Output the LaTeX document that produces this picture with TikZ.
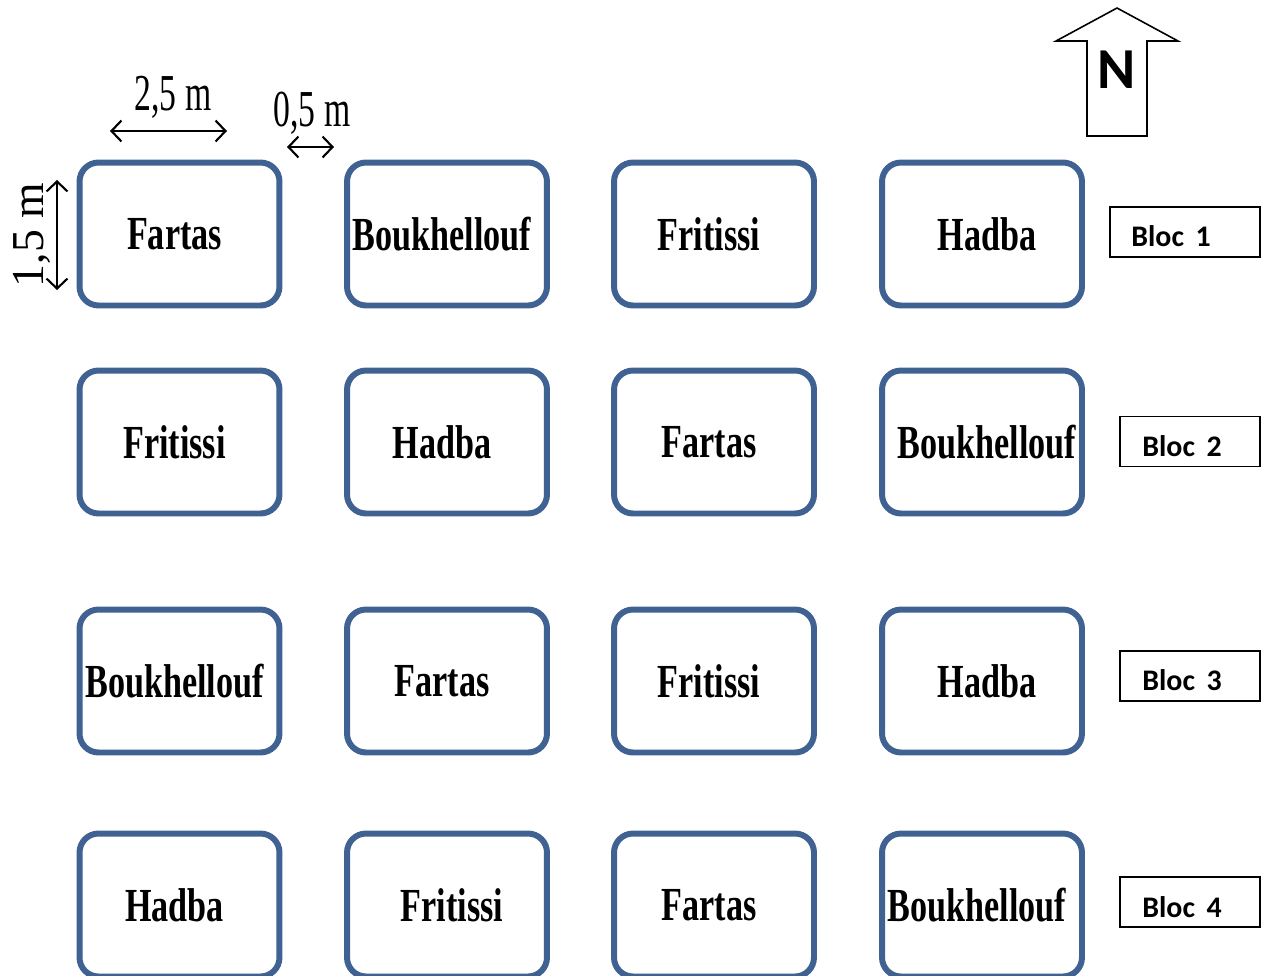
\documentclass[tikz,border=0pt]{standalone}
\usepackage{fontspec}
\usepackage{graphicx}
\setmainfont{Liberation Serif}
\newfontfamily\calibrifont{Carlito}
\usetikzlibrary{arrows.meta}
\definecolor{plotblue}{HTML}{3F6293}
\tikzset{
  plotbox/.style={draw=plotblue, line width=3.4pt, rounded corners=0.38cm,
    minimum width=4.0cm, minimum height=2.86cm, inner sep=0pt, fill=white,
    font=\fontsize{27}{30}\selectfont\bfseries},
  blocbox/.style={draw=black, line width=1.1pt, minimum width=2.8cm, minimum height=1cm, inner sep=0pt},
  bloctext/.style={anchor=west, inner sep=0pt, font=\calibrifont\fontsize{17}{20}\selectfont\bfseries},
  dimarrow/.style={line width=1.2pt, {Straight Barb[length=2mm,width=4.2mm]}-{Straight Barb[length=2mm,width=4.2mm]}},
  dimtext/.style={inner sep=0pt, font=\fontsize{29.5}{32}\selectfont}
}
% condensed label, shifted left (\cnl) or right (\cnr) by 5px
\newcommand{\cnl}[1]{\scalebox{0.72}[1]{#1}\hspace*{0.2cm}}
\newcommand{\cnr}[1]{\hspace*{0.2cm}\scalebox{0.72}[1]{#1}}
\newcommand{\cd}[1]{\scalebox{0.65}[1]{#1}}
\begin{document}
\begin{tikzpicture}[x=0.02cm,y=-0.02cm]
\useasboundingbox (0,0) rectangle (1268,975);
\clip (0,0) rectangle (1268,975);
% plots
\node[plotbox] (a1) at (179.5,234) {\cnl{Fartas}};
\node[plotbox] (b1) at (447,234) {\cnl{Boukhellouf}};
\node[plotbox] (c1) at (714,234) {\cnl{Fritissi}};
\node[plotbox] (d1) at (982,234) {\cnr{Hadba}};
\node[plotbox] (a2) at (179.5,442) {\cnl{Fritissi}};
\node[plotbox] (b2) at (447,442) {\cnl{Hadba}};
\node[plotbox] (c2) at (714,442) {\cnl{Fartas}};
\node[plotbox] (d2) at (982,442) {\cnr{Boukhellouf}};
\node[plotbox] (a3) at (179.5,681) {\cnl{Boukhellouf}};
\node[plotbox] (b3) at (447,681) {\cnl{Fartas}};
\node[plotbox] (c3) at (714,681) {\cnl{Fritissi}};
\node[plotbox] (d3) at (982,681) {\cnr{Hadba}};
\node[plotbox] (a4) at (179.5,905) {\cnl{Hadba}};
\node[plotbox] (b4) at (447,905) {\cnr{Fritissi}};
\node[plotbox] (c4) at (714,905) {\cnl{Fartas}};
\node[plotbox] (d4) at (982,905) {\cnl{Boukhellouf}};
% bloc labels
\node[blocbox, minimum width=3cm] (bl1) at (1185,232) {};
\node[bloctext] (tl1) at (1131,236) {Bloc~\,1};
\node[blocbox] (bl2) at (1190,441.5) {};
\node[bloctext] (tl2) at (1142,446) {Bloc~\,2};
\node[blocbox] (bl3) at (1190,676) {};
\node[bloctext] (tl3) at (1142,680) {Bloc~\,3};
\node[blocbox] (bl4) at (1190,902) {};
\node[bloctext] (tl4) at (1142,907) {Bloc~\,4};
% dimensions
\coordinate (h1) at (110,131);
\coordinate (h2) at (227,131);
\draw[dimarrow] (h1) -- (h2);
\node[dimtext, anchor=base] (lh) at (173,110) {\cd{2,5 m}};
\coordinate (g1) at (287,147);
\coordinate (g2) at (334,147);
\draw[dimarrow] (g1) -- (g2);
\node[dimtext, anchor=base] (lg) at (312,126) {\cd{0,5 m}};
\coordinate (v1) at (57,180);
\coordinate (v2) at (57,290);
\draw[dimarrow] (v1) -- (v2);
\node[inner sep=0pt, font=\fontsize{26}{28}\selectfont, rotate=90, anchor=base] (lv) at (43,235) {1,5 m};
% north arrow
\draw[line width=0.9pt] (1117,8) -- (1178,41) -- (1147,41) -- (1147,136) -- (1087,136) -- (1087,41) -- (1056,41) -- cycle;
\node[inner sep=0pt, font=\calibrifont\fontsize{33}{36}\selectfont\bfseries] (N) at (1117,70) {N};
\end{tikzpicture}
\end{document}
